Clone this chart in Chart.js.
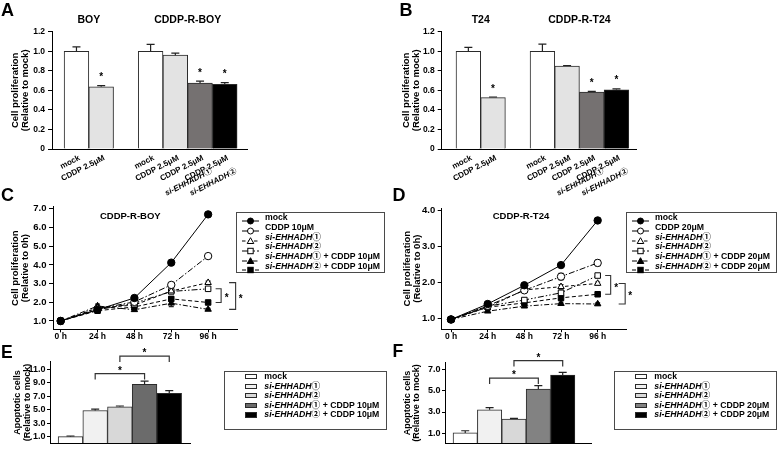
<!DOCTYPE html>
<html><head><meta charset="utf-8">
<script src="https://cdn.jsdelivr.net/npm/chart.js@4.4.1/dist/chart.umd.min.js"></script>
<style>
html,body{margin:0;padding:0;background:#fff;}
#wrap{position:relative;width:778px;height:450px;overflow:hidden;background:#fff;font-family:"Liberation Sans",Arial,"Noto Sans CJK JP",sans-serif;color:#000;}
#wrap canvas{position:absolute;}
.t{position:absolute;white-space:nowrap;font-weight:bold;}
.leg{position:absolute;border:1.5px solid #4a4a4a;box-sizing:border-box;}
.row{position:absolute;white-space:nowrap;font-weight:bold;font-size:8.7px;line-height:9px;}
</style></head><body><div id="wrap"></div>
<script>
// ---------------- DATA ----------------
// Panel A
const A_groups = ['BOY', 'CDDP-R-BOY'];
const A_cats1 = ['mock', 'CDDP 2.5μM'];
const A_cats2 = ['mock', 'CDDP 2.5μM', ['CDDP 2.5μM', 'si-EHHADH①'], ['CDDP 2.5μM', 'si-EHHADH②']];
const A_vals = [1.00, 0.637, 1.00, 0.960, 0.675, 0.662];
const A_errs = [0.045, 0.012, 0.070, 0.020, 0.020, 0.018];
const A_sig = [false, true, false, false, true, true];
// Panel B
const B_groups = ['T24', 'CDDP-R-T24'];
const B_cats1 = ['mock', 'CDDP 2.5μM'];
const B_cats2 = ['mock', 'CDDP 2.5μM', ['CDDP 2.5μM', 'si-EHHADH①'], ['CDDP 2.5μM', 'si-EHHADH②']];
const B_vals = [1.00, 0.526, 1.00, 0.848, 0.583, 0.606];
const B_errs = [0.040, 0.006, 0.072, 0.006, 0.006, 0.010];
const B_sig = [false, true, false, false, true, true];
const prolifTicks = [0, 0.2, 0.4, 0.6, 0.8, 1.0, 1.2];

// Panels C, D
const hours = [0, 24, 48, 72, 96];
const hourLabels = ['0 h', '24 h', '48 h', '72 h', '96 h'];
const C_names = ['mock', 'CDDP 10μM', 'si-EHHADH①', 'si-EHHADH②', 'si-EHHADH① + CDDP 10μM', 'si-EHHADH② + CDDP 10μM'];
const C_mock = [1.00, 1.60, 2.23, 4.12, 6.70];
const C_cddp = [1.00, 1.65, 2.02, 2.93, 4.47];
const C_si1  = [1.00, 1.70, 1.85, 2.60, 3.05];
const C_si2  = [1.00, 1.60, 1.95, 2.58, 2.72];
const C_si1c = [1.00, 1.80, 1.60, 1.95, 1.62];
const C_si2c = [1.00, 1.55, 1.75, 2.18, 1.99];
const C_mockErr = [0.03, 0.06, 0.06, 0.07, 0.05];
const C_cddpErr = [0.03, 0.05, 0.05, 0.07, 0.06];
const C_si1Err  = [0.03, 0.08, 0.10, 0.10, 0.08];
const C_si2Err  = [0.03, 0.06, 0.08, 0.08, 0.06];
const C_si1cErr = [0.03, 0.10, 0.08, 0.18, 0.06];
const C_si2cErr = [0.03, 0.05, 0.08, 0.12, 0.06];
const C_ticks = [1, 2, 3, 4, 5, 6, 7];

const D_names = ['mock', 'CDDP 20μM', 'si-EHHADH①', 'si-EHHADH②', 'si-EHHADH① + CDDP 20μM', 'si-EHHADH② + CDDP 20μM'];
const D_mock = [0.96, 1.39, 1.91, 2.47, 3.71];
const D_cddp = [0.96, 1.34, 1.77, 2.15, 2.53];
const D_si1  = [0.96, 1.30, 1.78, 1.87, 1.96];
const D_si2  = [0.96, 1.33, 1.50, 1.70, 2.18];
const D_si1c = [0.96, 1.19, 1.33, 1.40, 1.39];
const D_si2c = [0.96, 1.30, 1.42, 1.56, 1.66];
const D_mockErr = [0.02, 0.03, 0.04, 0.05, 0.06];
const D_cddpErr = [0.02, 0.03, 0.05, 0.09, 0.08];
const D_si1Err  = [0.02, 0.03, 0.05, 0.06, 0.04];
const D_si2Err  = [0.02, 0.03, 0.05, 0.07, 0.03];
const D_si1cErr = [0.02, 0.03, 0.03, 0.04, 0.03];
const D_si2cErr = [0.02, 0.03, 0.04, 0.05, 0.03];
const D_ticks = [1, 2, 3, 4];
const CD_brackets = [[3, 5], [2, 4]];   // si-2 vs si-2+CDDP (inner), si-1 vs si-1+CDDP (outer)

// Panels E, F
const E_names = ['mock', 'si-EHHADH①', 'si-EHHADH②', 'si-EHHADH① + CDDP 10μM', 'si-EHHADH② + CDDP 10μM'];
const E_vals = [1.05, 4.90, 5.45, 8.75, 7.45];
const E_errs = [0.10, 0.22, 0.12, 0.50, 0.40];
const E_ticks = [1, 3, 5, 7, 9, 11];
const F_names = ['mock', 'si-EHHADH①', 'si-EHHADH②', 'si-EHHADH① + CDDP 20μM', 'si-EHHADH② + CDDP 20μM'];
const F_vals = [1.05, 3.20, 2.35, 5.15, 6.45];
const F_errs = [0.20, 0.20, 0.06, 0.32, 0.25];
const F_ticks = [1, 3, 5, 7];
const EF_brackets = [[1, 3], [2, 4]];

// ---------------- STYLES ----------------
const FONT = '"Liberation Sans", Arial, "Noto Sans CJK JP", sans-serif';
const fillsAB = ['#ffffff', '#e3e3e3', '#ffffff', '#e3e3e3', '#757171', '#000000'];
const fillsE = ['#ffffff', '#f1f1f1', '#d8d8d8', '#6b6b6b', '#000000'];
const fillsF = ['#ffffff', '#f1f1f1', '#d8d8d8', '#828282', '#000000'];
const lineStyles = [
  {pt: 'circle', r: 3.7, fill: '#000', dash: []},
  {pt: 'circle', r: 3.7, fill: '#fff', dash: [6, 2, 1.5, 2]},
  {pt: 'triangle', r: 3.7, fill: '#fff', dash: [3.5, 2.5]},
  {pt: 'rect', r: 3.9, fill: '#fff', dash: [6, 2, 1.5, 2, 1.5, 2]},
  {pt: 'triangle', r: 3.7, fill: '#000', dash: [5, 2, 1.5, 2]},
  {pt: 'rect', r: 3.9, fill: '#000', dash: [4, 2.5]}
];

Chart.defaults.font.family = FONT;
Chart.defaults.font.weight = 'bold';
Chart.defaults.color = '#000';

const wrap = document.getElementById('wrap');
function mkCanvas(x, y, w, h) {
  const c = document.createElement('canvas');
  c.width = w; c.height = h;
  c.style.left = x + 'px'; c.style.top = y + 'px';
  c.style.width = w + 'px'; c.style.height = h + 'px';
  wrap.appendChild(c);
  return c;
}
function starAt(ctx, x, yc, fs) {
  ctx.font = 'bold ' + fs + 'px ' + FONT;
  ctx.fillStyle = '#000';
  ctx.textAlign = 'center';
  ctx.textBaseline = 'alphabetic';
  ctx.fillText('*', x, yc + 0.57 * fs);
}

// ---------------- PLUGINS ----------------
function drawErr(chart, both) {
  const ctx = chart.ctx, ys = chart.scales.y;
  ctx.save();
  ctx.strokeStyle = '#222'; ctx.lineWidth = 1.2; ctx.setLineDash([]);
  chart.data.datasets.forEach((ds, di) => {
    if (!ds.errs) return;
    const meta = chart.getDatasetMeta(di);
    meta.data.forEach((el, i) => {
      const v = ds.data[i].y, e = ds.errs[i];
      if (!e) return;
      const x = el.x;
      const yt = ys.getPixelForValue(v + e);
      const yb = both ? ys.getPixelForValue(v - e) : el.y;
      const cw = both ? 2.5 : 4;
      ctx.beginPath();
      ctx.moveTo(x, yb); ctx.lineTo(x, yt);
      ctx.moveTo(x - cw, yt); ctx.lineTo(x + cw, yt);
      if (both) { ctx.moveTo(x - cw, yb); ctx.lineTo(x + cw, yb); }
      ctx.stroke();
    });
  });
  ctx.restore();
}
const errBars = {
  id: 'errBars',
  beforeDatasetsDraw(chart) { if (chart.config.type === 'line') drawErr(chart, true); },
  afterDatasetsDraw(chart) { if (chart.config.type === 'bar') drawErr(chart, false); }
};
const sigStars = {
  id: 'sigStars',
  afterDraw(chart, args, opts) {
    if (!opts.sig) return;
    const ds = chart.data.datasets[0], meta = chart.getDatasetMeta(0), ys = chart.scales.y;
    opts.sig.forEach((s, i) => {
      if (!s) return;
      const top = ys.getPixelForValue(ds.data[i].y + ds.errs[i]);
      starAt(chart.ctx, meta.data[i].x, top - 11, 10);
    });
  }
};
const groupTitles = {
  id: 'groupTitles',
  afterDraw(chart, args, opts) {
    if (!opts.groups) return;
    const ctx = chart.ctx, meta = chart.getDatasetMeta(0);
    ctx.save();
    ctx.font = 'bold 10.5px ' + FONT;
    ctx.fillStyle = '#000'; ctx.textAlign = 'center'; ctx.textBaseline = 'alphabetic';
    opts.groups.forEach(g => {
      const xs = g.idx.map(i => meta.data[i].x);
      const xc = (Math.min(...xs) + Math.max(...xs)) / 2;
      ctx.fillText(g.text, xc, opts.y);
    });
    ctx.restore();
  }
};
// rotated category labels with italic gene names, placed at the x scale's tick pixels
function drawRich(ctx, text, fs) {
  const parts = [];
  const idx = text.indexOf('si-EHHADH');
  if (idx >= 0) {
    if (idx > 0) parts.push({t: text.slice(0, idx), it: false});
    parts.push({t: 'si-EHHADH', it: true});
    parts.push({t: text.slice(idx + 9), it: false});
  } else parts.push({t: text, it: false});
  const fontOf = p => (p.it ? 'italic ' : '') + 'bold ' + fs + 'px ' + FONT;
  let total = 0;
  parts.forEach(p => { ctx.font = fontOf(p); p.w = ctx.measureText(p.t).width; total += p.w; });
  let x = -total;
  ctx.textAlign = 'left'; ctx.textBaseline = 'middle';
  parts.forEach(p => { ctx.font = fontOf(p); ctx.fillText(p.t, x, 0); x += p.w; });
}
const catLabels = {
  id: 'catLabels',
  afterDraw(chart, args, opts) {
    if (!opts.labels) return;
    const ctx = chart.ctx, xs = chart.scales.x, base = chart.chartArea.bottom;
    ctx.save(); ctx.fillStyle = '#000';
    opts.labels.forEach((lab, i) => {
      const lines = Array.isArray(lab) ? lab : [lab];
      const tx = xs.getPixelForValue(opts.pos[i]);
      lines.forEach((ln, k) => {
        ctx.save();
        ctx.translate(tx + 3 + 8.5 * k, base + 8.5 + 13 * k);
        ctx.rotate(-27 * Math.PI / 180);
        drawRich(ctx, ln, 8);
        ctx.restore();
      });
    });
    ctx.restore();
  }
};
const pairBrackets = {
  id: 'pairBrackets',
  afterDraw(chart, args, opts) {
    if (!opts.pairs) return;
    const ctx = chart.ctx, ds = chart.data.datasets[0], meta = chart.getDatasetMeta(0), ys = chart.scales.y;
    let prev = null;
    ctx.save();
    ctx.strokeStyle = '#333'; ctx.lineWidth = 1.2;
    opts.pairs.forEach(p => {
      const [a, b] = p;
      const xa = meta.data[a].x, xb = meta.data[b].x;
      const ta = ys.getPixelForValue(ds.data[a].y + ds.errs[a]);
      const tb = ys.getPixelForValue(ds.data[b].y + ds.errs[b]);
      let level = Math.min(ta, tb) - 7.5;
      if (prev !== null) level = Math.min(level, prev - 17.5);
      prev = level;
      ctx.beginPath();
      ctx.moveTo(xa, level + 6); ctx.lineTo(xa, level); ctx.lineTo(xb, level); ctx.lineTo(xb, level + 6);
      ctx.stroke();
      starAt(ctx, (xa + xb) / 2, level - 5.5, 10);
    });
    ctx.restore();
  }
};
const endBrackets = {
  id: 'endBrackets',
  afterDraw(chart, args, opts) {
    if (!opts.pairs) return;
    const ctx = chart.ctx;
    const offs = [{t: 7.5, v: 13, s: 18.5}, {t: 21, v: 27.5, s: 32.5}];
    ctx.save();
    ctx.strokeStyle = '#333'; ctx.lineWidth = 1.1;
    opts.pairs.forEach((p, k) => {
      const ea = chart.getDatasetMeta(p[0]).data.at(-1);
      const eb = chart.getDatasetMeta(p[1]).data.at(-1);
      const x0 = ea.x, o = offs[k];
      ctx.beginPath();
      ctx.moveTo(x0 + o.t, ea.y); ctx.lineTo(x0 + o.v, ea.y);
      ctx.lineTo(x0 + o.v, eb.y); ctx.lineTo(x0 + o.t, eb.y);
      ctx.stroke();
      starAt(ctx, x0 + o.s, (ea.y + eb.y) / 2, 10);
    });
    ctx.restore();
  }
};

// ---------------- BUILDERS ----------------
function barPanel(o) {
  const cv = mkCanvas(o.cx, o.cy, o.cw, o.ch);
  const L = o.area[0] - o.cx, T = o.area[1] - o.cy, R = o.area[2] - o.cx, B = o.area[3] - o.cy;
  return new Chart(cv, {
    type: 'bar',
    data: {datasets: [{
      data: o.pos.map((p, i) => ({x: p, y: o.vals[i]})),
      errs: o.errs,
      backgroundColor: o.fills, borderColor: '#2a2a2a', borderWidth: 1, borderSkipped: 'start',
      categoryPercentage: 1, barPercentage: 1
    }]},
    options: {
      responsive: false, maintainAspectRatio: false, devicePixelRatio: 1, animation: false, events: [],
      layout: {padding: {left: o.padL, top: T, right: o.cw - R, bottom: 0}},
      plugins: {
        legend: {display: false}, tooltip: {enabled: false},
        sigStars: {sig: o.sig || null},
        groupTitles: {groups: o.groups || null, y: o.groupY || 0},
        catLabels: {labels: o.labels || null, pos: o.pos},
        pairBrackets: {pairs: o.pairs || null}
      },
      scales: {
        x: {
          type: 'linear', min: o.xmin, max: o.xmax, offset: false,
          afterBuildTicks: s => { s.ticks = o.pos.map(v => ({value: v})); },
          afterFit: s => { s.height = o.ch - B; },
          ticks: {display: false},
          grid: {display: false},
          border: {display: true, color: '#000', width: 1}
        },
        y: {
          min: o.ymin, max: o.ymax,
          afterBuildTicks: s => { s.ticks = o.yticks.map(v => ({value: v})); },
          afterFit: s => { s.width = L - o.padL; },
          ticks: {padding: o.ypad, font: {size: o.yfs, weight: 'bold'}, color: '#000', callback: o.yfmt},
          grid: {display: true, drawOnChartArea: false, drawTicks: true, tickLength: o.tl, color: '#000', lineWidth: 1},
          border: {display: true, color: '#000', width: 1},
          title: {display: true, text: o.ytitle, color: '#000', padding: 0, font: {size: o.tfs, weight: 'bold', lineHeight: 1.05}}
        }
      }
    },
    plugins: [errBars, sigStars, groupTitles, catLabels, pairBrackets]
  });
}

function linePanel(o) {
  const cv = mkCanvas(o.cx, o.cy, o.cw, o.ch);
  const L = o.area[0] - o.cx, T = o.area[1] - o.cy, R = o.area[2] - o.cx, B = o.area[3] - o.cy;
  return new Chart(cv, {
    type: 'line',
    data: {datasets: o.series.map((s, i) => ({
      data: hours.map((h, j) => ({x: h, y: s.vals[j]})),
      errs: s.errs,
      borderColor: '#000', borderWidth: 1, borderDash: lineStyles[i].dash,
      pointStyle: lineStyles[i].pt, pointRadius: lineStyles[i].r,
      pointBackgroundColor: lineStyles[i].fill, pointBorderColor: '#000', pointBorderWidth: 1,
      fill: false, tension: 0
    }))},
    options: {
      responsive: false, maintainAspectRatio: false, devicePixelRatio: 1, animation: false, events: [],
      layout: {padding: {left: o.padL, top: T, right: o.cw - R, bottom: 0}},
      plugins: {legend: {display: false}, tooltip: {enabled: false}, endBrackets: {pairs: o.brackets}},
      scales: {
        x: {
          type: 'linear', min: o.xmin, max: o.xmax,
          afterBuildTicks: s => { s.ticks = hours.map(v => ({value: v})); },
          afterFit: s => { s.height = o.ch - B; },
          ticks: {autoSkip: false, maxRotation: 0, padding: 0, font: {size: 8.5, weight: 'bold', lineHeight: 1}, color: '#000',
                  callback: (v, i) => hourLabels[i]},
          grid: {display: true, drawOnChartArea: false, drawTicks: true, tickLength: 3, color: '#000'},
          border: {display: true, color: '#000', width: 1}
        },
        y: {
          min: o.ymin, max: o.ymax,
          afterBuildTicks: s => { s.ticks = o.yticks.map(v => ({value: v})); },
          afterFit: s => { s.width = L - o.padL; },
          ticks: {padding: 2.5, font: {size: 9.5, weight: 'bold'}, color: '#000', callback: v => v.toFixed(1)},
          grid: {display: true, drawOnChartArea: false, drawTicks: true, tickLength: 4, color: '#000'},
          border: {display: true, color: '#000', width: 1},
          title: {display: true, text: ['Cell proliferation', '(Relative to 0h)'], color: '#000', padding: 0,
                  font: {size: 9.5, weight: 'bold', lineHeight: 1.05}}
        }
      }
    },
    plugins: [errBars, endBrackets]
  });
}

function groupLayout(c1, c2) {
  const pos = [], labels = [];
  c1.forEach((c, i) => { pos.push(i); labels.push(c); });
  c2.forEach((c, i) => { pos.push(c1.length + 1 + i); labels.push(c); });
  return {pos, labels,
    groups: [c1.map((c, i) => i), c2.map((c, i) => c1.length + i)]};
}

// ---------------- PANELS ----------------
const gA = groupLayout(A_cats1, A_cats2);
barPanel({cx: 0, cy: 0, cw: 390, ch: 197, area: [52, 31.7, 247, 149], padL: 10,
  pos: gA.pos, labels: gA.labels, vals: A_vals, errs: A_errs, fills: fillsAB, sig: A_sig,
  groups: [{text: A_groups[0], idx: gA.groups[0]}, {text: A_groups[1], idx: gA.groups[1]}], groupY: 22.7,
  xmin: -0.99, xmax: 6.9, ymin: 0, ymax: 1.2, yticks: prolifTicks, yfmt: v => v === 0 ? '0' : v.toFixed(1),
  yfs: 8.5, ypad: 3, tl: 4, tfs: 9.5, ytitle: ['Cell proliferation', '(Relative to mock)']});

const gB = groupLayout(B_cats1, B_cats2);
barPanel({cx: 390, cy: 0, cw: 388, ch: 197, area: [441.7, 31.7, 636.7, 149], padL: 11.7,
  pos: gB.pos, labels: gB.labels, vals: B_vals, errs: B_errs, fills: fillsAB, sig: B_sig,
  groups: [{text: B_groups[0], idx: gB.groups[0]}, {text: B_groups[1], idx: gB.groups[1]}], groupY: 22.7,
  xmin: -1.08, xmax: 6.82, ymin: 0, ymax: 1.2, yticks: prolifTicks, yfmt: v => v === 0 ? '0' : v.toFixed(1),
  yfs: 8.5, ypad: 3, tl: 4, tfs: 9.5, ytitle: ['Cell proliferation', '(Relative to mock)']});

linePanel({cx: 0, cy: 185, cw: 390, ch: 160, area: [53, 206.9, 237, 329.4], padL: 10,
  xmin: -5, xmax: 114.8, ymin: 0.55, ymax: 7.1, yticks: C_ticks, brackets: CD_brackets,
  series: [
    {vals: C_mock, errs: C_mockErr}, {vals: C_cddp, errs: C_cddpErr}, {vals: C_si1, errs: C_si1Err},
    {vals: C_si2, errs: C_si2Err}, {vals: C_si1c, errs: C_si1cErr}, {vals: C_si2c, errs: C_si2cErr}]});

linePanel({cx: 390, cy: 185, cw: 388, ch: 160, area: [441.7, 208.2, 626.7, 329.2], padL: 12.8,
  xmin: -6.1, xmax: 115, ymin: 0.69, ymax: 4.05, yticks: D_ticks, brackets: CD_brackets,
  series: [
    {vals: D_mock, errs: D_mockErr}, {vals: D_cddp, errs: D_cddpErr}, {vals: D_si1, errs: D_si1Err},
    {vals: D_si2, errs: D_si2Err}, {vals: D_si1c, errs: D_si1cErr}, {vals: D_si2c, errs: D_si2cErr}]});

barPanel({cx: 0, cy: 340, cw: 390, ch: 110, area: [50, 361.7, 190, 446], padL: 13,
  pos: E_names.map((n, i) => i), labels: null, vals: E_vals, errs: E_errs, fills: fillsE, pairs: EF_brackets,
  xmin: -0.83, xmax: 4.84, ymin: 0.1, ymax: 12.1, yticks: E_ticks, yfmt: v => v.toFixed(1),
  yfs: 9, ypad: 1.5, tl: 3, tfs: 9, ytitle: ['Apoptotic cells', '(Relative to mock)']});

barPanel({cx: 390, cy: 340, cw: 388, ch: 110, area: [445, 362.7, 591.7, 447.3], padL: 12.5,
  pos: F_names.map((n, i) => i), labels: null, vals: F_vals, errs: F_errs, fills: fillsF, pairs: EF_brackets,
  xmin: -0.83, xmax: 5.19, ymin: 0.1, ymax: 7.6, yticks: F_ticks, yfmt: v => v.toFixed(1),
  yfs: 9, ypad: 1.5, tl: 3, tfs: 9, ytitle: ['Apoptotic cells', '(Relative to mock)']});

// ---------------- HTML TEXT & LEGENDS ----------------
function txt(html, x, yMid, fs, align) {
  const d = document.createElement('div');
  d.className = 't';
  d.innerHTML = html;
  d.style.fontSize = fs + 'px';
  d.style.lineHeight = fs + 'px';
  d.style.top = (yMid - fs * 0.49) + 'px';
  if (align === 'center') { d.style.left = x + 'px'; d.style.transform = 'translateX(-50%)'; }
  else d.style.left = x + 'px';
  wrap.appendChild(d);
  return d;
}
function italicSi(n) { return n.replace('si-EHHADH', '<i>si-EHHADH</i>'); }

txt('A', 1, 10, 18); txt('B', 399.5, 10, 18);
txt('C', 1, 195, 18); txt('D', 392.5, 195, 18);
txt('E', 1, 353, 17.5); txt('F', 392.5, 351.2, 17.5);
txt('CDDP-R-BOY', 130.3, 216, 9.5, 'center');
txt('CDDP-R-T24', 521, 216, 9.5, 'center');

function symSVG(st, x, yc) {
  const w = 17, h = 10, cy = 5, cx = 8.5;
  let m = '';
  const sw = 'stroke="#000" stroke-width="1"';
  if (st.pt === 'circle') m = `<circle cx="${cx}" cy="${cy}" r="3" fill="${st.fill}" ${sw}/>`;
  if (st.pt === 'triangle') m = `<polygon points="${cx},${cy - 3.3} ${cx + 3.3},${cy + 2.5} ${cx - 3.3},${cy + 2.5}" fill="${st.fill}" ${sw}/>`;
  if (st.pt === 'rect') m = `<rect x="${cx - 2.7}" y="${cy - 2.7}" width="5.4" height="5.4" fill="${st.fill}" ${sw}/>`;
  const dash = st.dash.length ? `stroke-dasharray="${st.dash.join(',')}"` : '';
  const s = document.createElement('div');
  s.style.position = 'absolute'; s.style.left = x + 'px'; s.style.top = (yc - cy) + 'px';
  s.innerHTML = `<svg width="${w}" height="${h}" xmlns="http://www.w3.org/2000/svg"><line x1="0" y1="${cy}" x2="${w}" y2="${cy}" ${sw} ${dash}/>${m}</svg>`;
  wrap.appendChild(s);
}
function box(x, y, w, h) {
  const b = document.createElement('div');
  b.className = 'leg';
  b.style.left = x + 'px'; b.style.top = y + 'px'; b.style.width = w + 'px'; b.style.height = h + 'px';
  wrap.appendChild(b);
}
function rowText(html, x, yc) {
  const d = document.createElement('div');
  d.className = 'row'; d.innerHTML = html;
  d.style.left = x + 'px'; d.style.top = (yc - 4.4) + 'px';
  wrap.appendChild(d);
}
function lineLegend(names, bx, by, bw, bh, y0, dy) {
  box(bx, by, bw, bh);
  names.forEach((n, i) => {
    const yc = y0 + i * dy;
    symSVG(lineStyles[i], bx + 6, yc);
    rowText(italicSi(n), bx + 29.3, yc);
  });
}
function barLegend(names, fills, bx, by, bw, bh, y0, dy) {
  box(bx, by, bw, bh);
  names.forEach((n, i) => {
    const yc = y0 + i * dy;
    const sq = document.createElement('div');
    sq.style.cssText = `position:absolute;left:${bx + 21}px;top:${yc - 2.7}px;width:12.3px;height:5.4px;box-sizing:border-box;border:1px solid #2a2a2a;background:${fills[i]};`;
    wrap.appendChild(sq);
    rowText(italicSi(n), bx + 40.3, yc);
  });
}
lineLegend(C_names, 235.7, 211.7, 149.3, 61.3, 217.3, 9.8);
lineLegend(D_names, 625.7, 211.7, 151, 61.3, 217.3, 9.8);
barLegend(E_names, fillsE, 224, 370.7, 162.7, 59.3, 376.7, 9.53);
barLegend(F_names, fillsF, 614, 370.7, 162.7, 59.3, 376.7, 9.53);
</script></body></html>
